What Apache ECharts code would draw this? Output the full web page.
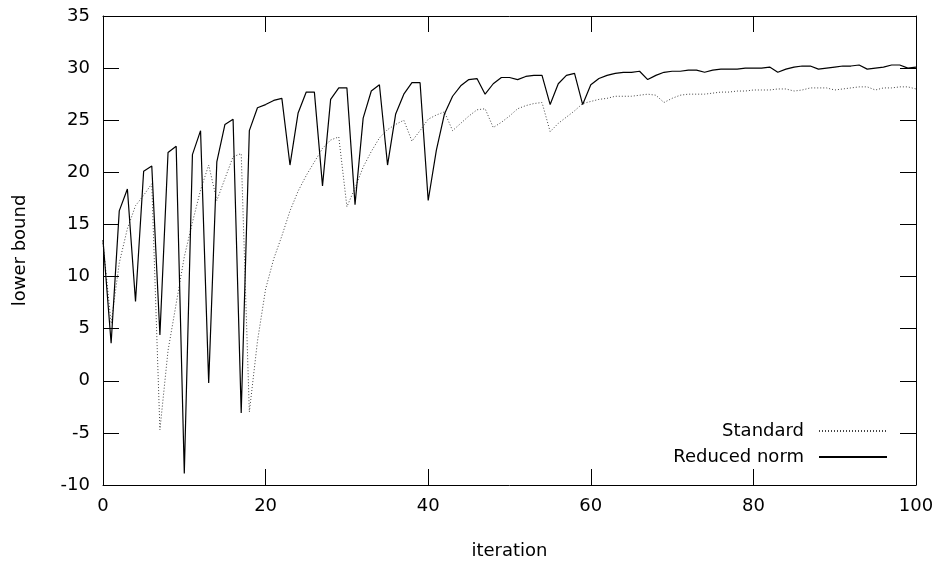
<!DOCTYPE html>
<html>
<head>
<meta charset="utf-8">
<script src="https://cdn.jsdelivr.net/npm/echarts@6/dist/echarts.min.js"></script>
<style>
  html, body { margin: 0; padding: 0; background: #fff; }
  #chart { width: 944px; height: 567px; }
</style>
</head>
<body>
<div id="chart"></div>
<script>
// lower bound per iteration (iterations 0..100)
var standard = [
    13.2, 5.5, 11.3, 14.6, 16.8, 17.8, 18.9, -4.7, 2.9, 7.4,
    11.9, 15.2, 18.3, 20.7, 17.3, 19.4, 21.5, 21.8, -3.0, 3.8,
    8.8, 11.7, 13.9, 16.3, 18.2, 19.7, 21.0, 22.3, 23.1, 23.4,
    16.7, 18.5, 20.5, 22.0, 23.3, 24.1, 24.6, 25.0, 23.0, 24.0,
    25.1, 25.5, 25.8, 24.0, 24.7, 25.4, 26.0, 26.1, 24.3, 24.8,
    25.4, 26.1, 26.4, 26.6, 26.7, 23.9, 24.7, 25.3, 25.9, 26.6,
    26.8, 27.0, 27.1, 27.3, 27.3, 27.3, 27.4, 27.5, 27.4, 26.7,
    27.1, 27.4, 27.5, 27.5, 27.5, 27.6, 27.7, 27.7, 27.8, 27.8,
    27.9, 27.9, 27.9, 28.0, 28.0, 27.8, 27.9, 28.1, 28.1, 28.1,
    27.9, 28.0, 28.1, 28.2, 28.2, 27.9, 28.1, 28.1, 28.2, 28.2,
    28.0
];
var reducedNorm = [
    13.5, 3.6, 16.3, 18.4, 7.6, 20.1, 20.6, 4.4, 21.9, 22.5,
    -8.9, 21.7, 24.0, -0.2, 21.0, 24.6, 25.1, -3.1, 24.0, 26.2,
    26.5, 26.9, 27.1, 20.7, 25.7, 27.7, 27.7, 18.7, 27.0, 28.1,
    28.1, 16.9, 25.2, 27.8, 28.4, 20.7, 25.6, 27.5, 28.6, 28.6,
    17.3, 22.1, 25.6, 27.3, 28.3, 28.9, 29.0, 27.5, 28.5, 29.1,
    29.1, 28.9, 29.2, 29.3, 29.3, 26.5, 28.5, 29.3, 29.5, 26.5,
    28.4, 29.0, 29.3, 29.5, 29.6, 29.6, 29.7, 28.9, 29.3, 29.6,
    29.7, 29.7, 29.8, 29.8, 29.6, 29.8, 29.9, 29.9, 29.9, 30.0,
    30.0, 30.0, 30.1, 29.6, 29.9, 30.1, 30.2, 30.2, 29.9, 30.0,
    30.1, 30.2, 30.2, 30.3, 29.9, 30.0, 30.1, 30.3, 30.3, 30.0,
    30.1
];
var xTicks = [0, 20, 40, 60, 80, 100];
var yTicks = [-10, -5, 0, 5, 10, 15, 20, 25, 30, 35];

function pairs(arr) {
    var res = [];
    for (var i = 0; i < arr.length; i++) res.push([i, arr[i]]);
    return res;
}

var font = 'DejaVu Sans';
var black = '#000';

function xAxisDef(pos, showLabel) {
    return {
        type: 'value',
        position: pos,
        min: xTicks[0],
        max: xTicks[xTicks.length - 1],
        interval: xTicks[1] - xTicks[0],
        name: showLabel ? 'iteration' : '',
        nameLocation: 'middle',
        nameGap: 57,
        nameTextStyle: { fontFamily: font, fontSize: 18, color: black },
        axisLine: { show: true, onZero: false, lineStyle: { color: black, width: 1 } },
        axisTick: { show: true, inside: true, length: 16, lineStyle: { color: black } },
        axisLabel: { show: showLabel, margin: 12, fontFamily: font, fontSize: 18, color: black },
        splitLine: { show: false }
    };
}

function yAxisDef(pos, showLabel) {
    return {
        type: 'value',
        position: pos,
        min: yTicks[0],
        max: yTicks[yTicks.length - 1],
        interval: yTicks[1] - yTicks[0],
        name: showLabel ? 'lower bound' : '',
        nameLocation: 'middle',
        nameGap: 74,
        nameTextStyle: { fontFamily: font, fontSize: 18, color: black },
        axisLine: { show: true, onZero: false, lineStyle: { color: black, width: 1 } },
        axisTick: { show: true, inside: true, length: 16, lineStyle: { color: black } },
        axisLabel: { show: showLabel, margin: 13, fontFamily: font, fontSize: 18, color: black },
        splitLine: { show: false }
    };
}

var chart = echarts.init(document.getElementById('chart'), null, { renderer: 'canvas' });
var option = {
    animation: false,
    backgroundColor: '#fff',
    grid: { left: 103, right: 28, top: 16, bottom: 82, containLabel: false },
    legend: {
        orient: 'vertical',
        align: 'right',
        right: 56,
        top: 422,
        padding: 0,
        itemWidth: 68,
        itemHeight: 16,
        itemGap: 8,
        itemStyle: { opacity: 0 },
        textStyle: { fontFamily: font, fontSize: 18, color: black, padding: [0, 10, 0, 0] },
        data: ['Standard', 'Reduced norm']
    },
    xAxis: [xAxisDef('bottom', true), xAxisDef('top', false)],
    yAxis: [yAxisDef('left', true), yAxisDef('right', false)],
    series: [
        {
            name: 'Standard',
            type: 'line',
            xAxisIndex: 0,
            yAxisIndex: 0,
            symbol: 'none',
            showSymbol: false,
            lineStyle: { color: '#444', width: 1, type: [1, 2] },
            itemStyle: { color: '#444' },
            data: pairs(standard)
        },
        {
            name: 'Reduced norm',
            type: 'line',
            xAxisIndex: 0,
            yAxisIndex: 0,
            symbol: 'none',
            showSymbol: false,
            lineStyle: { color: black, width: 1.2 },
            itemStyle: { color: black },
            data: pairs(reducedNorm)
        }
    ]
};
chart.setOption(option);
</script>
</body>
</html>
